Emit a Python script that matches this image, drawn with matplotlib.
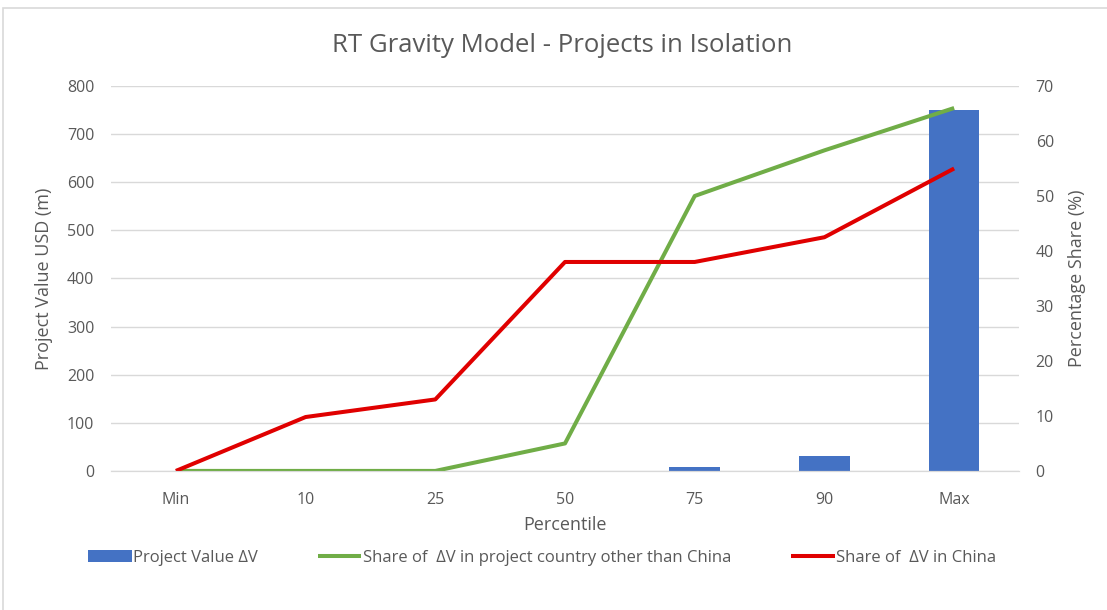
import matplotlib
matplotlib.use('Agg')
import matplotlib.pyplot as plt
from matplotlib.patches import Rectangle

plt.rcParams['font.family'] = ['Open Sans', 'DejaVu Sans']

percentiles = ['Min', '10', '25', '50', '75', '90', 'Max']
project_value = [0, 0, 0, 0, 8, 32, 750]
share_other = [0, 0, 0, 5, 50, 58.3, 66]
share_china = [0, 9.8, 13, 38, 38, 42.5, 55]

text_col = '#595959'
grid_col = '#d9d9d9'

fig = plt.figure(figsize=(11.07, 6.10), dpi=100)
ax = fig.add_axes([0.1003, 0.228, 0.8202, 0.631])
ax2 = ax.twinx()

x = range(len(percentiles))
bars = ax.bar(x, project_value, width=0.39, color='#4472c4', zorder=2,
              label='Project Value \u0394V')
l1, = ax2.plot(x, share_other, color='#70ad47', lw=2.9, solid_capstyle='butt',
               label='Share of  \u0394V in project country other than China')
l2, = ax2.plot(x, share_china, color='#e00000', lw=2.9, solid_capstyle='butt',
               label='Share of  \u0394V in China')

ax.set_xlim(-0.5, 6.5)
ax.set_ylim(0, 800)
ax2.set_ylim(0, 70)
ax.set_yticks(range(0, 801, 100))
ax2.set_yticks(range(0, 71, 10))
ax.set_xticks(list(x))
ax.set_xticklabels(percentiles)

ax.yaxis.grid(True, color=grid_col, lw=1.0, zorder=0)
ax.set_axisbelow(True)
ax2.set_zorder(ax.get_zorder() + 1)
ax2.patch.set_visible(False)

for a in (ax, ax2):
    for s in ('top', 'left', 'right'):
        a.spines[s].set_visible(False)
    a.spines['bottom'].set_color(grid_col)
    a.tick_params(length=0, labelsize=11.5, colors=text_col, pad=12)
ax.tick_params(axis='x', pad=15)

ax.set_ylabel('Project Value USD (m)', fontsize=13, color=text_col, labelpad=10)
ax2.set_ylabel('Percentage Share (%)', fontsize=13, color=text_col, labelpad=10)
ax.set_xlabel('Percentile', fontsize=13, color=text_col, labelpad=6)
fig.text(0.508, 0.926, 'RT Gravity Model - Projects in Isolation', fontsize=18.5,
         color=text_col, ha='center', va='center')

fig.legend(handles=[bars, l1, l2], loc='center', bbox_to_anchor=(0.490, 0.085),
           ncol=3, frameon=False, fontsize=12, labelcolor=text_col,
           handlelength=2.6, handletextpad=0.1, columnspacing=3.6)

fig.patches.append(Rectangle((0.003, -0.01), 1.1, 0.997, transform=fig.transFigure,
                             fill=False, edgecolor='#d9d9d9', lw=1.2))

fig.savefig('out.png', dpi=100)
